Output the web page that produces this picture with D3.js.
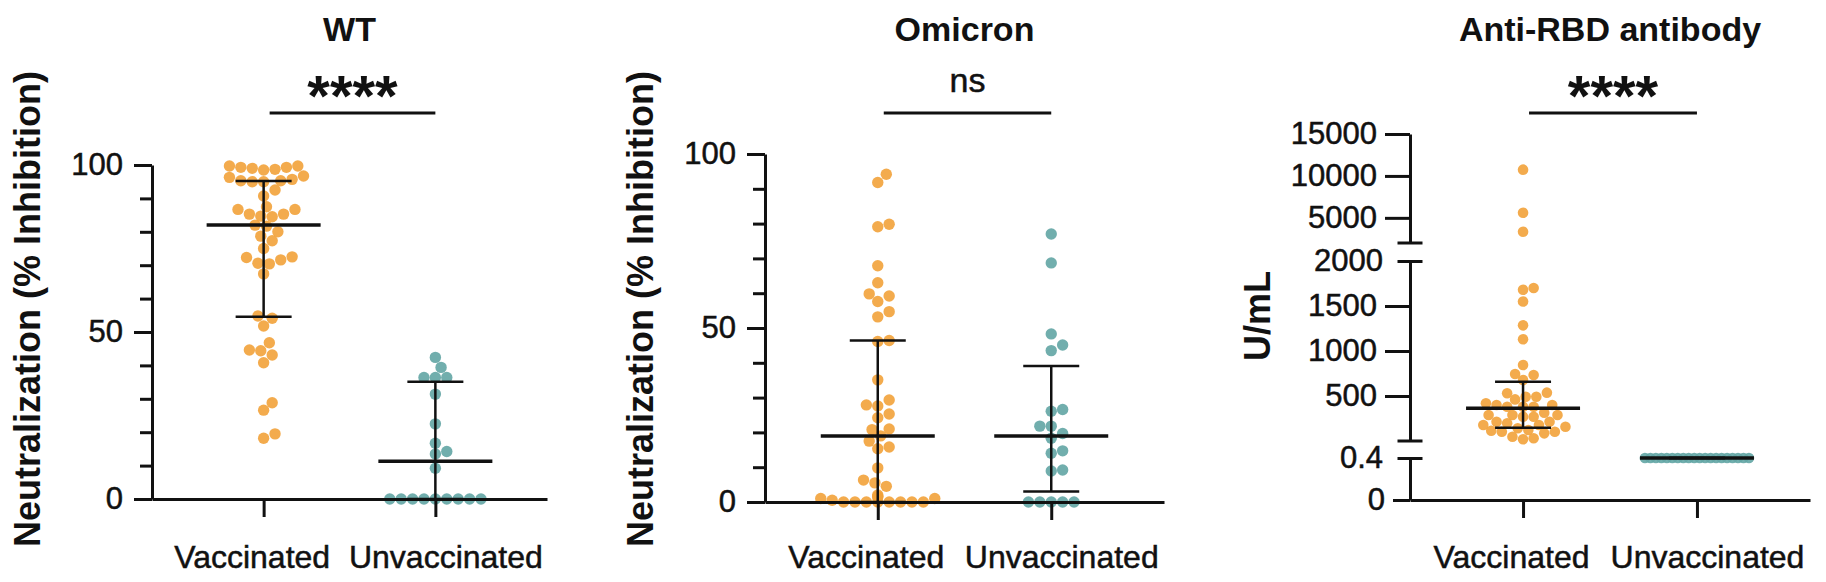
<!DOCTYPE html>
<html lang="en">

<head>
    <meta charset="UTF-8">
    <title>Neutralization and anti-RBD antibody</title>
    <style>
        body { margin: 0; background: #fff; }
        svg { display: block; font-family: "Liberation Sans", Arial, sans-serif; }
        .axis .domain, .axis line { stroke: #111; stroke-width: 3; }
        .axis text { fill: #111; font-size: 31px; stroke: #111; stroke-width: 0.5; }
    </style>
</head>

<body>
    <svg id="chart" width="1826" height="582"></svg>

    <script src="https://d3js.org/d3.v7.min.js"></script>
    <script>
        // ---- data ----
        const categories = ["Vaccinated", "Unvaccinated"];
        const titles = ["WT", "Omicron", "Anti-RBD antibody"];
        const sigLabels = ["****", "ns", "****"];
        const yTitles = ["Neutralization (% Inhibition)", "Neutralization (% Inhibition)", "U/mL"];

        // WT neutralization (%)
        const wtVac = [98.5, 99.7, 98.7, 99, 99.7, 99.3, 99.3,
            95.3, 95.7, 96.7, 96.3, 95.3, 95, 95,
            92.5, 90.7,
            87.5, 86.7, 86.7, 85.3, 85.3, 84.7, 84.5,
            82, 81.7, 80, 78.7, 77.3, 75,
            72.5, 72.3, 71.6, 70.6, 70.4, 67.4,
            54.8, 54.1, 51.8,
            46.8, 44.6, 44.4, 43.1, 40.8,
            28.8, 26.6, 19.5, 18.2];
        const wtUnvac = [42.4, 39.4, 36.4, 36.4, 36.4, 31.4, 22.5, 16.7, 14.2, 13.5, 9.2,
            0, 0, 0, 0, 0, 0, 0, 0, 0];
        const wtMedian = [82, 11.3];
        const wtQ1 = [54.6, 0];
        const wtQ3 = [95.2, 35.1];

        // Omicron neutralization (%)
        const omiVac = [94.2, 91.8, 79.8, 79.1, 67.9, 63, 59.8, 59.2, 57.6, 54.7, 53.2,
            46.4, 46.1, 35.1, 29.3, 27.9, 27.6, 25.3, 24.2, 21, 20.8, 19, 17.5, 15.8, 15.3,
            9.8, 6.3, 5.5, 4.5, 2, 1.5, 1.5, 1, 1, 0.5,
            0, 0, 0, 0, 0, 0, 0, 0];
        const omiUnvac = [77, 68.7, 48.3, 45.1, 43.5, 26.6, 26.1, 21.8, 21.8, 19.7, 18.3,
            14.7, 14, 9.2, 8.9, 0, 0, 0, 0, 0];
        const omiMedian = [19, 19];
        const omiQ1 = [0, 3];
        const omiQ3 = [46.4, 39.1];

        // Anti-RBD antibody (U/mL)
        const rbdVac = [10750, 5600, 3350, 1700, 1680, 1550, 1285, 1130,
            844, 744, 733, 678, 537, 530, 492, 492, 462, 419, 400, 400, 381, 381, 381, 315,
            289, 289, 289, 270, 270, 214, 214, 197, 178, 178, 159, 141, 122, 114, 103, 103,
            85, 48, 30, 19];
        const rbdUnvac = [0.4, 0.4, 0.4, 0.4, 0.4, 0.4, 0.4, 0.4, 0.4, 0.4,
            0.4, 0.4, 0.4, 0.4, 0.4, 0.4, 0.4, 0.4, 0.4, 0.4];
        const rbdMedian = [363, 0.4];
        const rbdQ1 = [148, 0.4];
        const rbdQ3 = [659, 0.4];

        // tick values
        const pctMajor = [0, 50, 100];
        const pctMinor = [10, 20, 30, 40, 60, 70, 80, 90];
        const rbdTicksTop = [5000, 10000, 15000];
        const rbdTicksMid = [500, 1000, 1500, 2000];
        const rbdTicksLow = [0, 0.4];

        const colors = ["#F2A23A", "#62A5A4"];

        const svg = d3.select("#chart");

        // spread dots sideways so they do not pile up (rough beeswarm)
        function swarm(values, yPos, r, maxHalf) {
            const d = 2 * r;
            const counts = d3.rollup(values, v => v.length, v => v);
            const pts = values.map(v => ({ v: v, y: yPos(v), dx: 0 })).sort((a, b) => b.y - a.y);
            const placed = [];
            const rowIndex = new Map();
            pts.forEach(p => {
                const n = counts.get(p.v);
                if (n * d > 2 * maxHalf + d) {
                    // too many equal values: squeeze them into one row
                    const i = rowIndex.get(p.v) || 0;
                    rowIndex.set(p.v, i + 1);
                    p.dx = -maxHalf + 2 * maxHalf * i / (n - 1);
                } else {
                    search:
                    for (let k = 0; k < 80; k++) {
                        for (const s of (k ? [1, -1] : [1])) {
                            const dx = s * k * r * 0.5;
                            if (Math.abs(dx) > maxHalf + r) continue;
                            const free = placed.every(q => (q.dx - dx) ** 2 + (q.y - p.y) ** 2 >= d * d * 0.85);
                            if (free) { p.dx = dx; break search; }
                        }
                    }
                }
                placed.push(p);
            });
            return pts;
        }

        function drawPanel(cfg) {
            const g = svg.append("g");
            const x = d3.scalePoint().domain(categories).range([cfg.x0, cfg.x1]).padding(0.65);
            const y0 = cfg.yPos(0);

            // dots
            [cfg.vac, cfg.unvac].forEach((vals, i) => {
                const cx = x(categories[i]);
                g.append("g").selectAll("circle")
                    .data(swarm(vals, cfg.yPos, cfg.r, 52))
                    .enter().append("circle")
                    .attr("cx", d => cx + d.dx)
                    .attr("cy", d => d.y)
                    .attr("r", cfg.r)
                    .attr("fill", colors[i])
                    .attr("fill-opacity", 0.9);
            });

            // median with interquartile range
            categories.forEach((c, i) => {
                const cx = x(c);
                const yq1 = cfg.yPos(cfg.q1[i]), yq3 = cfg.yPos(cfg.q3[i]), ym = cfg.yPos(cfg.med[i]);
                g.append("line").attr("x1", cx).attr("x2", cx).attr("y1", yq1).attr("y2", yq3)
                    .attr("stroke", "#111").attr("stroke-width", 2.5);
                [yq1, yq3].forEach(yy => {
                    g.append("line").attr("x1", cx - 28).attr("x2", cx + 28).attr("y1", yy).attr("y2", yy)
                        .attr("stroke", "#111").attr("stroke-width", 2.5);
                });
                g.append("line").attr("x1", cx - 57).attr("x2", cx + 57).attr("y1", ym).attr("y2", ym)
                    .attr("stroke", "#111").attr("stroke-width", 3.5);
            });

            // x axis
            const xAxis = g.append("g").attr("class", "axis")
                .attr("transform", `translate(0,${y0})`)
                .call(d3.axisBottom(x).tickSize(18).tickSizeOuter(0));
            xAxis.selectAll("text")
                .attr("y", 568 - y0).attr("dy", 0)
                .attr("dx", (d, i) => i === 0 ? -12 : 10)
                .style("font-size", "32px");

            // titles
            const mid = (cfg.x0 + cfg.x1) / 2;
            svg.append("text").attr("x", mid).attr("y", 41)
                .attr("text-anchor", "middle").attr("font-weight", "bold").attr("font-size", 34)
                .attr("fill", "#111").text(cfg.title);

            // significance bracket
            const bx1 = x(categories[0]) + 6, bx2 = x(categories[1]);
            svg.append("line").attr("x1", bx1).attr("x2", bx2).attr("y1", 113).attr("y2", 113)
                .attr("stroke", "#111").attr("stroke-width", 3);
            const stars = cfg.sig.startsWith("*");
            svg.append("text").attr("x", (bx1 + bx2) / 2).attr("y", stars ? 116 : 92)
                .attr("text-anchor", "middle")
                .attr("font-weight", stars ? "bold" : "normal")
                .attr("font-size", stars ? 58 : 34)
                .attr("stroke", stars ? "none" : "#111").attr("stroke-width", 0.5)
                .attr("fill", "#111").text(cfg.sig);

            // y title
            svg.append("text")
                .attr("transform", `translate(${cfg.yTitleX},${cfg.yTitleY}) rotate(-90)`)
                .attr("text-anchor", cfg.yTitleAnchor).attr("font-size", cfg.yTitleSize)
                .attr("font-weight", "bold")
                .attr("fill", "#111").text(cfg.yTitle);
            return g;
        }

        // ---- percent panels ----
        function pctAxis(g, x0, y) {
            g.append("g").attr("class", "axis").attr("transform", `translate(${x0},0)`)
                .call(d3.axisLeft(y).tickValues(pctMajor).tickSize(18).tickSizeOuter(0)
                    .tickPadding(11).tickFormat(String));
            g.append("g").attr("class", "axis").attr("transform", `translate(${x0},0)`)
                .call(d3.axisLeft(y).tickValues(pctMinor).tickSize(12).tickFormat(""))
                .select(".domain").remove();
        }

        const yWT = d3.scaleLinear().domain([0, 100]).range([499, 165]);
        const gWT = drawPanel({
            x0: 152, x1: 547, yPos: yWT, r: 5.7,
            vac: wtVac, unvac: wtUnvac, med: wtMedian, q1: wtQ1, q3: wtQ3,
            title: titles[0], sig: sigLabels[0], yTitle: yTitles[0],
            yTitleX: 40, yTitleY: 547, yTitleAnchor: "start", yTitleSize: 36
        });
        pctAxis(gWT, 152, yWT);

        const yOmi = d3.scaleLinear().domain([0, 100]).range([502, 154]);
        const gOmi = drawPanel({
            x0: 765, x1: 1164, yPos: yOmi, r: 5.7,
            vac: omiVac, unvac: omiUnvac, med: omiMedian, q1: omiQ1, q3: omiQ3,
            title: titles[1], sig: sigLabels[1], yTitle: yTitles[1],
            yTitleX: 653, yTitleY: 547, yTitleAnchor: "start", yTitleSize: 36
        });
        pctAxis(gOmi, 765, yOmi);

        // ---- segmented axis for antibody panel ----
        const yTop = d3.scaleLinear().domain([2000, 15000]).range([243, 134]);
        const yMid = d3.scaleLinear().domain([0, 2000]).range([441, 261]);
        const yLow = d3.scaleLinear().domain([0, 0.4]).range([500, 458]);
        const yRbd = v => v > 2000 ? yTop(v) : (v > 0.4 ? yMid(v) : yLow(v));

        const gRbd = drawPanel({
            x0: 1410, x1: 1810, yPos: yRbd, r: 5.3,
            vac: rbdVac, unvac: rbdUnvac, med: rbdMedian, q1: rbdQ1, q3: rbdQ3,
            title: titles[2], sig: sigLabels[2], yTitle: yTitles[2],
            yTitleX: 1270, yTitleY: 316, yTitleAnchor: "middle", yTitleSize: 36
        });

        [[yTop, rbdTicksTop], [yMid, rbdTicksMid], [yLow, rbdTicksLow]].forEach(([sc, ticks], idx) => {
            const ax = gRbd.append("g").attr("class", "axis").attr("transform", "translate(1410,0)")
                .call(d3.axisLeft(sc).tickValues(ticks).tickSize(25).tickSizeOuter(0)
                    .tickPadding(8).tickFormat(String));
            ax.selectAll(".tick").each(function (d) {
                const line = d3.select(this).select("line");
                if ((idx === 1 && d === 2000) || (idx === 2 && d === 0.4)) {
                    line.attr("x1", 12.5).attr("x2", -12.5);
                    d3.select(this).select("text").attr("x", -27);
                }
                if (idx === 2 && d === 0) {
                    line.attr("x2", -17);
                    d3.select(this).select("text").attr("x", -25);
                }
            });
        });
        // unlabelled break caps
        [yTop(2000), yMid(0)].forEach(yy => {
            gRbd.append("line").attr("x1", 1410 - 12.5).attr("x2", 1410 + 12.5)
                .attr("y1", yy).attr("y2", yy).attr("stroke", "#111").attr("stroke-width", 3);
        });
    </script>
</body>

</html>
